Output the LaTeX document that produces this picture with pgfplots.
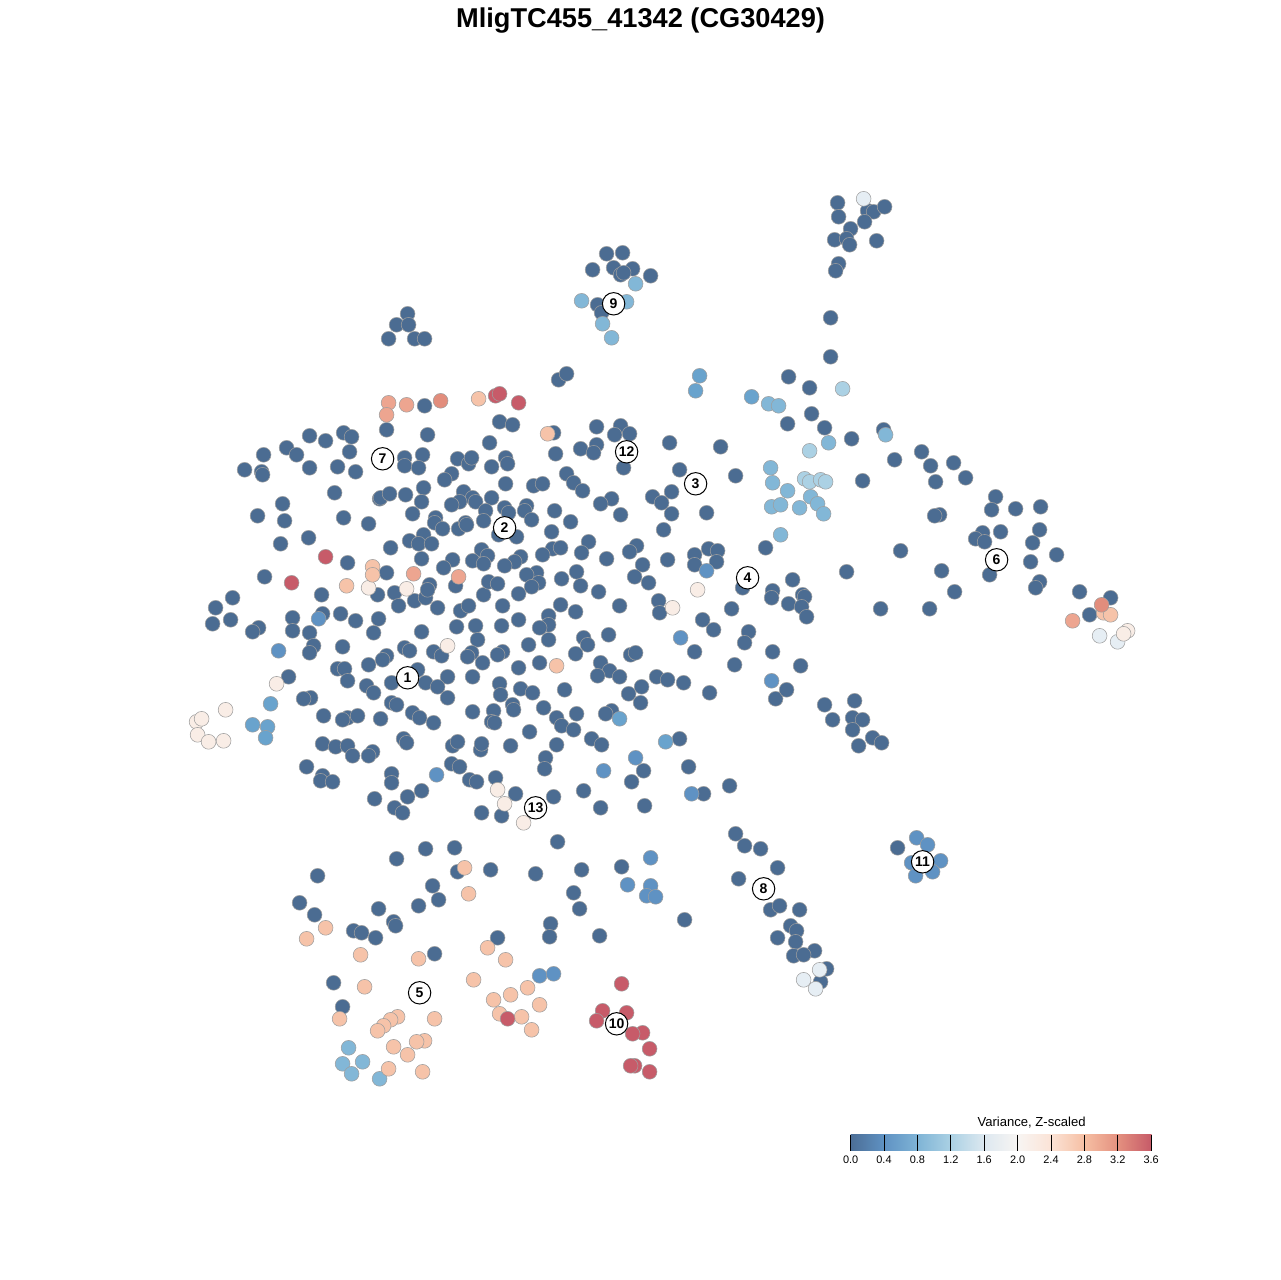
\documentclass[border=0pt]{standalone}
\usepackage{fontspec}
\setmainfont{Liberation Sans}
\usepackage{pgfplots}
\pgfplotsset{compat=1.18}
\definecolor{cdark}{HTML}{4B6C92}
\definecolor{cmid}{HTML}{5F92C3}
\definecolor{cblue}{HTML}{69A3CD}
\definecolor{clight}{HTML}{82B7D7}
\definecolor{cpaleblue}{HTML}{E6EEF4}
\definecolor{cpale}{HTML}{F9EDE6}
\definecolor{cpeach}{HTML}{F6C3A9}
\definecolor{csalmon}{HTML}{EDA590}
\definecolor{crust}{HTML}{E28D7C}
\definecolor{cred}{HTML}{C75B69}
\definecolor{b0}{HTML}{4C6E96}
\definecolor{b1}{HTML}{5F92C3}
\definecolor{b2}{HTML}{7FB4D6}
\definecolor{b3}{HTML}{ABD1E4}
\definecolor{b4}{HTML}{DDE8F0}
\definecolor{b5}{HTML}{F8F5F3}
\definecolor{b6}{HTML}{FBE3D6}
\definecolor{b7}{HTML}{F6BFA3}
\definecolor{b8}{HTML}{E4907F}
\definecolor{b9}{HTML}{C65A68}
\pgfplotsset{
  pt/.style={only marks, mark=*, mark size=5.55pt,
    mark options={fill=#1, draw=black!38, line width=0.4pt}},
}
\tikzset{
  lab/.style={circle, draw=black, fill=white, line width=0.75pt, inner sep=0pt,
    minimum size=16.8pt, font=\bfseries\fontsize{10.5}{12}\selectfont},
}
\begin{document}
\begin{tikzpicture}
\useasboundingbox (0,0) rectangle (960pt,960pt);
\begin{axis}[
    at={(0,0)}, anchor=south west,
    width=960pt, height=960pt, scale only axis,
    xmin=-0.6, xmax=1279.4, ymin=-0.8, ymax=1279.2,
    y dir=reverse,
    hide axis,
  ]
% main body, upper left
\addplot[pt=cdark] coordinates {
(424,405)(386,429)(427,434)(309,435)(325,440)(343,432)(351,436)(286,447)(296,454)(263,454)
(349,451)(244,469)(261,471)(262,474)(309,467)(337,466)(355,471)(404,457)(404,465)(422,454)
(418,467)(457,458)(468,463)(471,457)(489,442)(491,466)(451,473)(444,479)(334,492)(379,498)
(380,497)(389,493)(405,494)(423,487)(421,501)(463,491)(472,497)(459,501)(451,504)(475,501)
(491,497)(485,510)(282,503)(257,515)(284,520)(343,517)(368,523)(412,513)(435,517)(434,522)
(442,528)(458,528)(465,522)(466,524)(483,520)(423,534)(409,540)(418,543)(431,543)(308,537)
(280,543)(390,547)(421,558)(481,549)(487,555)(472,560)(483,563)(452,559)(443,567)(347,562)
(386,572)(264,576)(321,594)(377,594)(394,592)(398,605)(414,600)(425,597)(429,584)(427,589)
(437,607)(455,585)(460,610)(468,605)(483,594)(488,581)(232,597)(215,607)(292,617)(322,613)
(340,613)(355,620)(378,618)(230,619)(212,623)
% upper right of the body
(558,379)(566,373)(499,421)(512,424)(553,432)(596,426)(620,425)(614,434)(629,433)(669,442)
(720,446)(580,448)(596,444)(593,452)(555,453)(505,457)(507,463)(623,467)(566,473)(679,469)
(735,475)(573,482)(582,490)(505,483)(533,485)(542,483)(652,496)(671,491)(661,502)(611,498)
(600,503)(504,507)(508,512)(526,505)(524,510)(531,519)(554,510)(570,521)(620,514)(671,513)
(706,512)(663,529)(551,531)(498,534)(516,536)(588,541)(636,545)(629,551)(581,552)(552,548)
(560,547)(542,554)(520,556)(514,561)(504,565)(606,558)(667,559)(642,564)(694,554)(694,564)
(708,548)(717,550)(716,561)(765,547)(576,571)(536,572)(526,574)(538,582)(531,586)(561,578)
(634,576)(648,582)(580,585)(497,583)(518,593)(598,591)(742,587)(772,590)(771,597)(792,579)
(788,603)(731,608)(658,600)(659,612)(502,605)(560,604)(619,605)(575,611)(548,615)(518,619)
(702,619)(802,594)(804,596)(801,606)(806,616)
% lower left of the body
(258,627)(252,631)(292,630)(373,632)(309,632)(313,645)(309,652)(342,646)(421,631)(456,626)
(475,625)(477,639)(404,647)(409,650)(433,651)(441,655)(471,652)(467,656)(482,662)(386,655)
(382,659)(368,664)(337,668)(344,668)(347,680)(366,685)(373,692)(391,682)(417,669)(425,682)
(447,676)(437,686)(472,676)(447,697)(288,676)(310,697)(303,698)(391,702)(396,704)(412,712)
(419,717)(433,722)(472,711)(323,715)(347,717)(342,719)(357,715)(380,718)
(403,738)(406,742)(452,745)(457,741)(480,749)(481,743)(322,743)(335,746)(347,745)(352,755)
(372,751)(368,755)(451,763)(459,766)(469,779)(476,781)(306,766)(322,775)(320,780)(332,781)
(391,773)(391,782)(421,790)(407,796)(374,798)(394,807)(402,812)(481,812)
% lower right of the body
(713,629)(548,624)(539,627)(501,625)(548,639)(528,644)(502,651)(497,654)(583,637)(587,644)
(608,634)(575,653)(630,654)(635,652)(748,631)(744,642)(772,651)(694,651)(734,664)(539,662)
(518,667)(600,662)(609,670)(597,675)(619,676)(656,676)(667,679)(683,682)(641,686)(628,693)
(640,702)(709,692)(775,698)(786,689)(499,683)(500,694)(520,688)(532,692)(564,689)(543,707)
(512,704)(513,709)(493,710)(491,721)(494,722)(556,717)(576,713)(561,725)(573,729)(611,710)
(605,713)(529,731)(591,738)(601,744)(556,744)(510,745)(679,738)(545,757)(544,768)(643,770)
(631,781)(688,766)(729,785)(703,793)(495,777)(515,793)(553,796)(583,790)(600,807)(644,805)
(501,815)(800,665)
% below the body
(557,841)(425,848)(454,847)(396,858)(317,875)(457,871)(490,869)(535,873)(581,869)(621,866)
(432,885)(573,892)(438,899)(418,905)(299,902)(314,914)(378,908)(579,908)(393,921)(395,925)
(353,930)(361,932)(375,937)(550,923)(549,936)(497,937)(599,935)(684,919)(434,953)(333,982)
(342,1006)
% top right group
(837,202)(838,216)(867,210)(873,211)(884,206)(864,221)(850,228)(834,239)(846,238)(849,244)
(876,240)(838,263)(835,270)(830,317)(830,356)
% group 9 and the small group left of it
(606,253)(622,252)(592,269)(613,267)(632,268)(620,274)(623,272)(650,275)(597,304)(601,312)
(407,313)(396,324)(408,324)(388,338)(414,338)(424,338)
% right arm
(788,376)(809,387)(811,413)(787,423)(824,427)(851,438)(883,429)(894,459)(921,451)(930,465)
(953,462)(935,481)(965,477)(862,480)(995,496)(991,509)(1015,508)(1040,506)(939,514)(934,515)
(1039,529)(982,532)(1000,531)(975,538)(984,541)(1032,542)(1056,554)(900,550)(1030,561)(989,574)
(941,570)(846,571)(1039,581)(1035,587)(954,591)(880,608)(929,608)(1079,591)(1110,597)(1089,614)
% lower right
(824,704)(854,700)(832,719)(852,717)(862,719)(852,729)(872,737)(881,742)(858,745)
% group 8
(735,833)(744,845)(760,848)(777,867)(738,878)(770,909)(779,905)(799,909)(790,925)(796,930)
(795,941)(777,937)(814,950)(793,955)(803,954)(826,968)(820,981)(897,847)
};
\addplot[pt=cmid] coordinates {
(318,618)(278,650)(436,774)(706,570)(680,637)(771,680)(691,793)(635,757)(603,770)(650,857)
(627,884)(650,885)(646,895)(655,896)(539,975)(553,973)(916,837)(927,844)(911,862)(940,860)
(915,875)(932,871)
};
\addplot[pt=cblue] coordinates {
(270,703)(252,724)(267,726)(265,737)(619,718)(665,741)(699,375)(695,390)(751,396)
};
\addplot[pt=clight] coordinates {
(768,403)(778,405)(635,283)(581,300)(626,301)(602,323)(611,337)(885,434)(828,442)(770,467)
(772,482)(787,490)(771,506)(780,504)(780,534)(799,507)(810,496)(817,503)(823,513)(348,1047)
(342,1063)(362,1061)(351,1073)(379,1078)
};
\addplot[pt=b3] coordinates {
(842,388)(809,450)(804,478)(809,481)(820,479)(825,481)
};
\addplot[pt=cpaleblue] coordinates {
(863,198)(1099,635)(1117,641)(819,969)(803,979)(815,988)
};
\addplot[pt=cpale] coordinates {
(368,587)(406,588)(697,589)(672,607)(447,645)(276,683)(225,709)(196,721)(201,718)(197,734)
(208,741)(223,740)(497,789)(504,803)(523,822)(1127,630)(1123,633)
};
\addplot[pt=cpeach] coordinates {
(478,398)(547,433)(372,566)(372,574)(346,585)(556,665)(464,867)(468,893)(325,927)(306,938)
(360,954)(418,958)(487,947)(505,959)(473,979)(364,986)(527,987)(510,994)(493,999)(539,1004)
(499,1013)(521,1016)(531,1029)(339,1018)(434,1018)(397,1016)(390,1019)(383,1025)(377,1030)
(393,1046)(424,1040)(416,1041)(407,1054)(388,1068)(422,1071)(1103,612)(1110,614)
};
\addplot[pt=csalmon] coordinates {
(388,402)(406,404)(386,414)(413,573)(458,576)(1072,620)
};
\addplot[pt=crust] coordinates {
(440,400)(1101,604)
};
\addplot[pt=cred] coordinates {
(495,395)(499,393)(518,402)(325,556)(291,582)(507,1018)(621,983)(602,1010)(626,1012)(596,1020)
(642,1032)(632,1033)(649,1048)(634,1065)(630,1065)(649,1071)
};
% cluster numbers, as the last plot so they stay on top of the points
\addplot[only marks, mark=none, point meta=explicit symbolic, nodes near coords,
    every node near coord/.style={lab, anchor=center}] coordinates {
(407,677)[1] (504,527)[2] (695,483)[3] (747,577)[4] (419,992)[5] (996,559)[6] (382,458)[7]
(763,888)[8] (613,303)[9] (616,1023)[10] (922,861)[11] (626,451)[12] (535,807)[13]
};
% title
\node[font=\bfseries\fontsize{20.4}{23}\selectfont] at (640,20) {MligTC455\_41342 (CG30429)};
% colour key
\node[font=\fontsize{9.8}{12}\selectfont] at (1031,1122) {Variance, Z-scaled};
\fill[left color=b0, right color=b1] (850,1134) rectangle (883.6,1150);
\fill[left color=b1, right color=b2] (883.4,1134) rectangle (917,1150);
\fill[left color=b2, right color=b3] (916.8,1134) rectangle (950.4,1150);
\fill[left color=b3, right color=b4] (950.2,1134) rectangle (983.8,1150);
\fill[left color=b4, right color=b5] (983.6,1134) rectangle (1017.2,1150);
\fill[left color=b5, right color=b6] (1017,1134) rectangle (1050.6,1150);
\fill[left color=b6, right color=b7] (1050.4,1134) rectangle (1084,1150);
\fill[left color=b7, right color=b8] (1083.8,1134) rectangle (1117.4,1150);
\fill[left color=b8, right color=b9] (1117.2,1134) rectangle (1151,1150);
\addplot[black, line width=0.75pt, forget plot, unbounded coords=jump] coordinates {
(850,1134)(850,1150)(nan,nan)(883.4,1134)(883.4,1150)(nan,nan)(916.8,1134)(916.8,1150)(nan,nan)
(950.2,1134)(950.2,1150)(nan,nan)(983.6,1134)(983.6,1150)(nan,nan)(1017,1134)(1017,1150)(nan,nan)
(1050.4,1134)(1050.4,1150)(nan,nan)(1083.8,1134)(1083.8,1150)(nan,nan)(1117.2,1134)(1117.2,1150)(nan,nan)
(1150.6,1134)(1150.6,1150)
};
\node[font=\fontsize{8.2}{10}\selectfont] at (850,1159) {0.0};
\node[font=\fontsize{8.2}{10}\selectfont] at (883.4,1159) {0.4};
\node[font=\fontsize{8.2}{10}\selectfont] at (916.8,1159) {0.8};
\node[font=\fontsize{8.2}{10}\selectfont] at (950.2,1159) {1.2};
\node[font=\fontsize{8.2}{10}\selectfont] at (983.6,1159) {1.6};
\node[font=\fontsize{8.2}{10}\selectfont] at (1017,1159) {2.0};
\node[font=\fontsize{8.2}{10}\selectfont] at (1050.4,1159) {2.4};
\node[font=\fontsize{8.2}{10}\selectfont] at (1083.8,1159) {2.8};
\node[font=\fontsize{8.2}{10}\selectfont] at (1117.2,1159) {3.2};
\node[font=\fontsize{8.2}{10}\selectfont] at (1150.6,1159) {3.6};
\end{axis}
\end{tikzpicture}
\end{document}
